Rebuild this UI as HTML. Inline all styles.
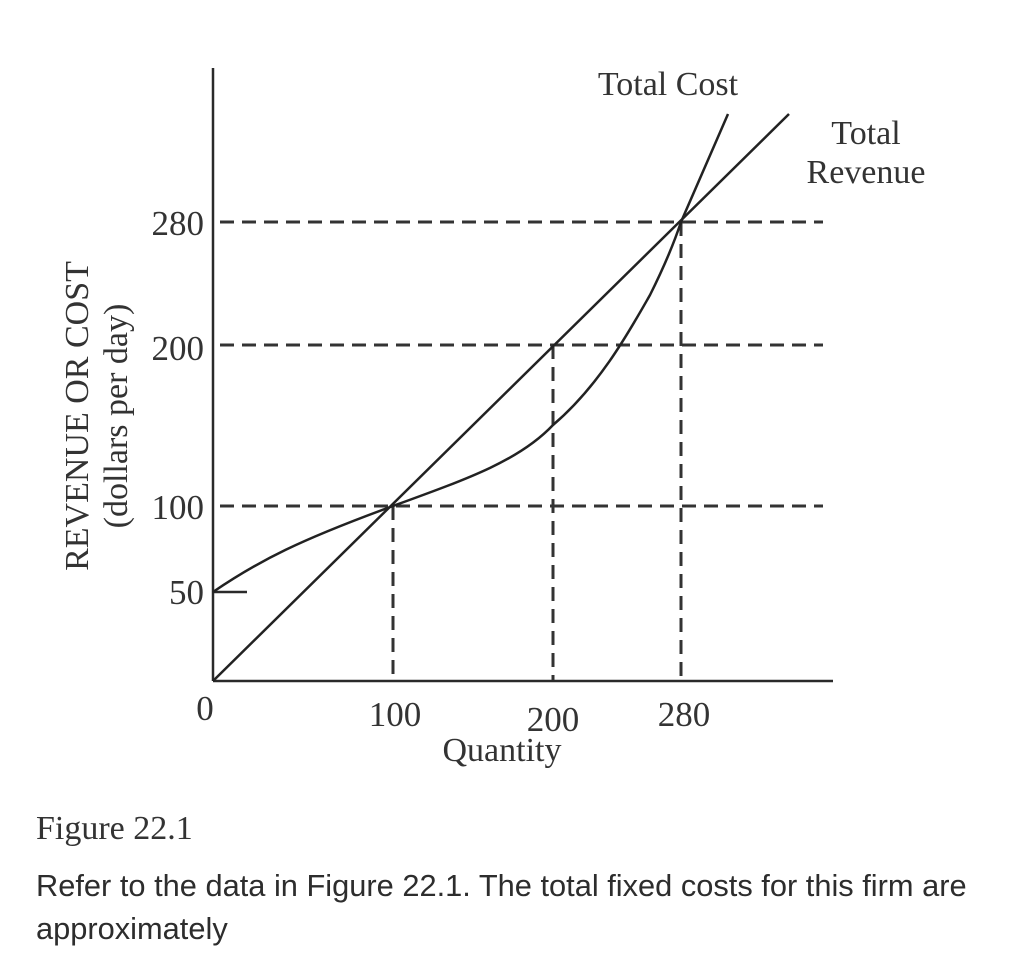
<!DOCTYPE html>
<html><head><meta charset="utf-8"><style>
body{margin:0;background:#fff;width:1026px;height:978px;overflow:hidden}
svg text{font-family:"Liberation Serif",serif;fill:#333}
.q{position:absolute;left:36px;top:864px;font-family:"Liberation Sans",sans-serif;font-size:30.8px;line-height:43px;color:#2d2d2d;width:975px}
</style></head><body>
<svg width="1026" height="978" style="position:absolute;left:0;top:0">
<g stroke="#2a2a2a" fill="none" stroke-width="2.5">
<line x1="213" y1="68" x2="213" y2="681"/>
<line x1="213" y1="681" x2="833" y2="681"/>
<line x1="213" y1="592" x2="247" y2="592"/>
</g>
<g stroke="#333" stroke-width="3" stroke-dasharray="14,8" fill="none">
<line x1="220" y1="222" x2="823" y2="222"/>
<line x1="220" y1="345" x2="823" y2="345"/>
<line x1="220" y1="506" x2="823" y2="506"/>
<line x1="393" y1="506" x2="393" y2="680"/>
<line x1="553" y1="345" x2="553" y2="680"/>
<line x1="681" y1="222" x2="681" y2="680"/>
</g>
<g stroke="#222" stroke-width="2.5" fill="none">
<line x1="213" y1="681" x2="789" y2="114"/>
<path d="M213,592 C260,560 300,540 393,506 C470,478 520,460 553,425 C600,385 630,330 650,295 C665,265 675,240 681,222 L728,114"/>
</g>
<g font-size="34">
<g font-size="35">
<text x="204" y="235" text-anchor="end">280</text>
<text x="204" y="360" text-anchor="end">200</text>
<text x="204" y="519" text-anchor="end">100</text>
<text x="204" y="604" text-anchor="end">50</text>
<text x="205" y="720" text-anchor="middle">0</text>
<text x="395" y="726" text-anchor="middle">100</text>
<text x="553" y="731" text-anchor="middle">200</text>
<text x="684" y="726" text-anchor="middle">280</text>
</g>
<text x="502" y="761" text-anchor="middle">Quantity</text>
<text x="668" y="95" text-anchor="middle">Total Cost</text>
<text x="866" y="144" text-anchor="middle">Total</text>
<text x="866" y="183" text-anchor="middle">Revenue</text>
<text x="36" y="839">Figure 22.1</text>
<text transform="translate(88,416) rotate(-90)" text-anchor="middle">REVENUE OR COST</text>
<text transform="translate(127,416) rotate(-90)" text-anchor="middle">(dollars per day)</text>
</g>
</svg>
<div class="q">Refer to the data in Figure 22.1. The total fixed costs for this firm are approximately</div>
</body></html>
